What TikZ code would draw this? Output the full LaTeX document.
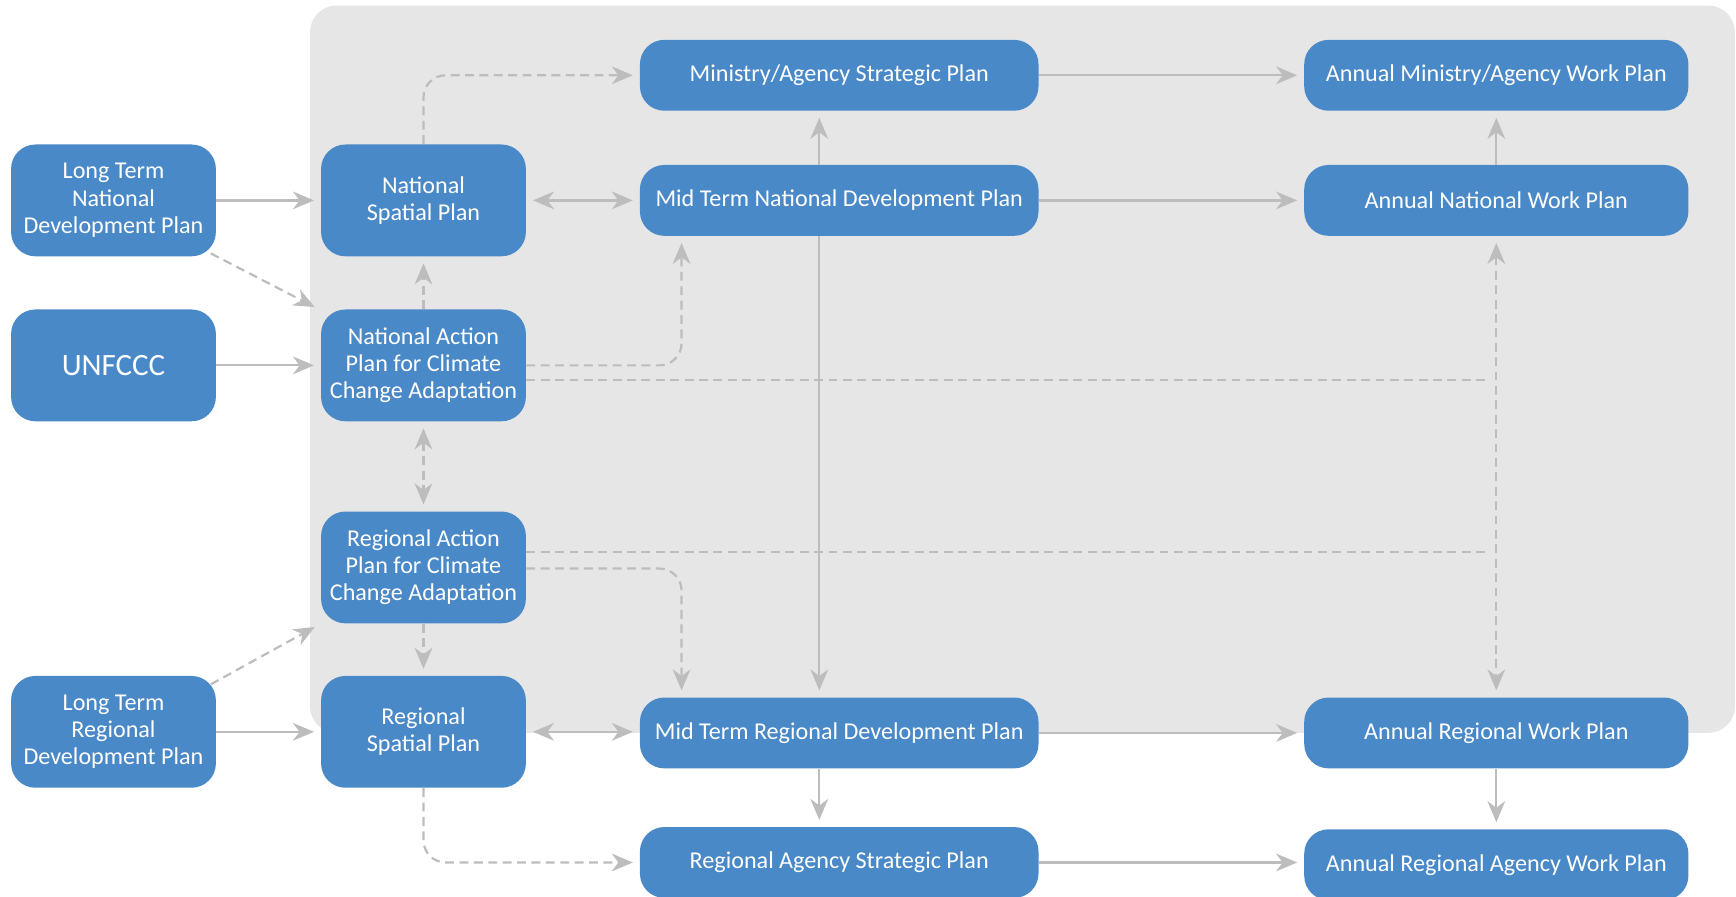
\documentclass[tikz,border=0pt]{standalone}
\usepackage{fontspec}
\setmainfont{Carlito}
\usetikzlibrary{arrows.meta,positioning,calc}
\definecolor{planblue}{HTML}{4A89C8}
\definecolor{panelgray}{HTML}{E6E6E6}
\definecolor{linegray}{HTML}{BDBDBD}
\tikzset{
  >={Stealth[length=9.5pt,width=8pt,inset=3pt]},
  plan/.style={fill=planblue, text=white, rounded corners=11pt, align=center, inner sep=0pt,
    font=\fontsize{10.9}{12.3}\selectfont},
  tall/.style={plan, minimum width=92.5pt, minimum height=50.5pt},
  wide/.style={plan, minimum width=180pt, minimum height=32pt},
  wider/.style={plan, minimum width=173.5pt, minimum height=32pt},
  con/.style={draw=linegray, line width=1pt, ->, shorten >=3pt},
  bicon/.style={con, <->, shorten <=3pt},
  dcon/.style={con, dash pattern=on 4pt off 2.5pt, rounded corners=10pt},
  dbicon/.style={dcon, <->, shorten <=3pt},
  dline/.style={draw=linegray, line width=1pt, dash pattern=on 4pt off 2.5pt}
}
\begin{document}
\begin{tikzpicture}[x=0.5pt,y=-0.5pt]
  \useasboundingbox (0,0) rectangle (1568,810);
  \fill[panelgray, rounded corners=12pt] (280,5) rectangle (1567,662);

  \node[tall] (ltn) at (102.5,181) {Long Term\\National\\Development Plan};
  \node[tall, font=\fontsize{14}{16}\selectfont] (unf) at (102.5,330) {UNFCCC};
  \node[tall] (ltr) at (102.5,661) {Long Term\\Regional\\Development Plan};

  \node[tall] (nsp) at (382.5,181) {National\\Spatial Plan};
  \node[tall] (nap) at (382.5,330) {National Action\\Plan for Climate\\Change Adaptation};
  \node[tall] (rap) at (382.5,512.5) {Regional Action\\Plan for Climate\\Change Adaptation};
  \node[tall] (rsp) at (382.5,661) {Regional\\Spatial Plan};

  \node[wide] (mas) at (758,68) {Ministry/Agency Strategic Plan};
  \node[wide] (mtn) at (758,181) {Mid Term National Development Plan};
  \node[wide] (mtr) at (758,662) {Mid Term Regional Development Plan};
  \node[wide] (ras) at (758,779) {Regional Agency Strategic Plan};

  \node[wider] (ama) at (1351.5,68) {Annual Ministry/Agency Work Plan};
  \node[wider] (anw) at (1351.5,181) {Annual National Work Plan};
  \node[wider] (arw) at (1351.5,662) {Annual Regional Work Plan};
  \node[wider] (ara) at (1351.5,781) {Annual Regional Agency Work Plan};

  \draw[con] (ltn) -- (nsp);
  \draw[con] (unf) -- (nap);
  \draw[con] (ltr) -- (rsp);
  \draw[dcon] ([xshift=-2.5pt,yshift=1.5pt]ltn.south east) -- ([yshift=-0.5pt]nap.north west);
  \draw[dcon] ([xshift=-2.5pt,yshift=-4pt]ltr.north east) -- (rap.south west);

  \draw[dcon] (nap) -- (nsp);
  \draw[dbicon] (nap) -- (rap);
  \draw[dcon] (rap) -- (rsp);
  \draw[dcon] (nsp.north) |- (mas.west);
  \draw[dcon] (rsp.south) |- (ras.west);

  \draw[bicon] (nsp) -- (mtn);
  \draw[bicon] (rsp.east) -- (rsp.east -| mtr.west);
  \draw[dcon] (nap.east) -| ([xshift=19pt]mtn.south west);
  \draw[dcon] ([yshift=-0.5pt]rap.east) -| ([xshift=19pt]mtr.north west);

  \draw[dbicon] (anw) -- (arw);
  \draw[dline] ([yshift=-6.5pt]nap.east) coordinate (n1) -- ([xshift=-3pt]n1 -| anw.south);
  \draw[dline] ([yshift=7pt]rap.east) coordinate (r1) -- ([xshift=-3pt]r1 -| anw.south);

  \draw[con] ([xshift=-9pt]mtn.north) -- ([xshift=-9pt]mas.south);
  \draw[con] ([xshift=-9pt]mtn.south) -- ([xshift=-9pt]mtr.north);
  \draw[con] ([xshift=-9pt]mtr.south) -- ([xshift=-9pt]ras.north);

  \draw[con] (mas) -- (ama);
  \draw[con] (mtn) -- (anw);
  \draw[con] (mtr) -- (arw);
  \draw[con] (ras.east) -- (ras.east -| ara.west);
  \draw[con] (anw) -- (ama);
  \draw[con] (arw) -- (ara);
\end{tikzpicture}
\end{document}
